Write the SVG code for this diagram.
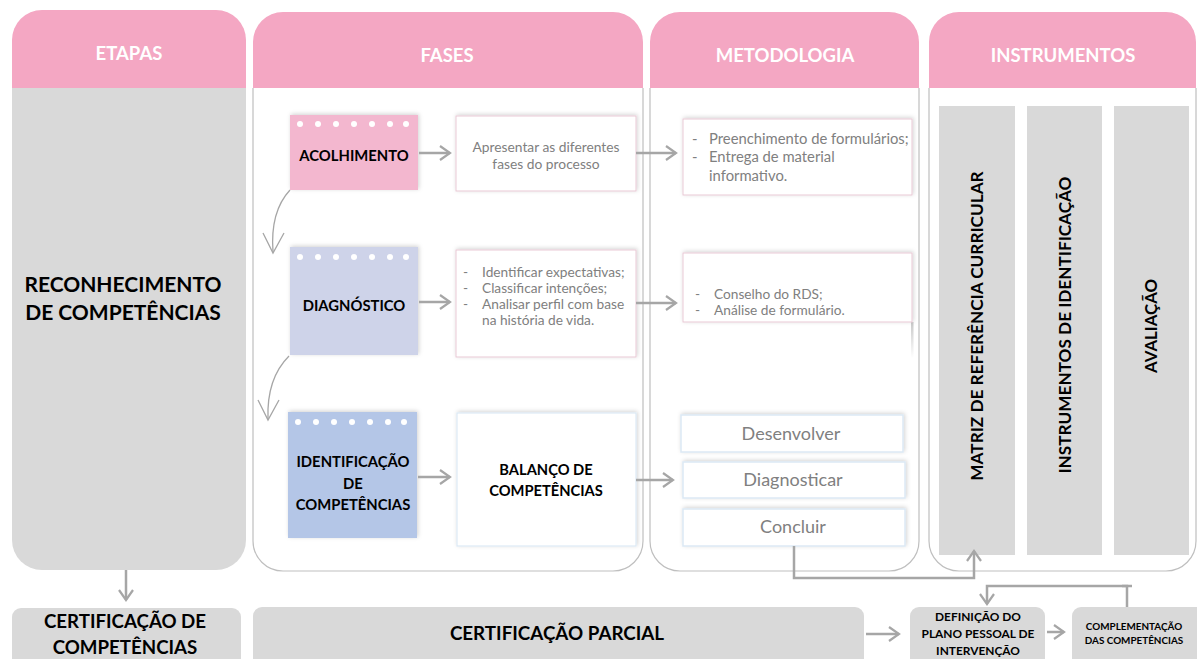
<svg xmlns="http://www.w3.org/2000/svg" width="1197" height="659" viewBox="0 0 1197 659">
<defs>
<style>
.t{font-family:Lato,"Open Sans","Liberation Sans",sans-serif}
.hd{font-weight:700;font-size:18.5px;fill:#fff;text-anchor:middle}
.note{font-weight:700;font-size:14.8px;fill:#000;text-anchor:middle}
.g{font-size:13.7px;fill:#808080}
.g2{font-size:14.8px;fill:#808080}
.gc{font-size:13.8px;fill:#808080;text-anchor:middle}
.m{font-size:18px;fill:#808080;text-anchor:middle}
.b{font-weight:700;fill:#000;text-anchor:middle}
.hdr{fill:#F4A7C3}
.colb{fill:#fff;stroke:#BFBFBF;stroke-width:1.2}
.grey{fill:#D9D9D9}
.box{fill:#fff;stroke:#E9C9D5;stroke-width:1}
.mbox{fill:#fff;stroke:#DCE9F5;stroke-width:1.5}
.dot{fill:#fff}
.con{fill:none;stroke:#A6A6A6;stroke-width:2.5}
.thin{fill:none;stroke:#A6A6A6;stroke-width:1.3}
</style>
<filter id="sh" x="-10%" y="-20%" width="120%" height="140%"><feDropShadow dx="1" dy="-1" stdDeviation="2" flood-color="#000" flood-opacity="0.18"/></filter>
<marker id="ar" markerUnits="userSpaceOnUse" markerWidth="14" markerHeight="18" viewBox="0 0 14 18" refX="12" refY="9" orient="auto"><path d="M2,2 L12,9 L2,16" fill="none" stroke="#A6A6A6" stroke-width="2.2"/></marker>
<g id="dots" class="dot"><circle cx="10" cy="9" r="3"/><circle cx="28" cy="9" r="3"/><circle cx="46" cy="9" r="3"/><circle cx="64" cy="9" r="3"/><circle cx="82" cy="9" r="3"/><circle cx="100" cy="9" r="3"/><circle cx="116" cy="9" r="3"/></g>
<linearGradient id="fade" x1="0" y1="0" x2="0" y2="1"><stop offset="0" stop-color="#C8C8C8"/><stop offset="1" stop-color="#fff"/></linearGradient>
</defs>

<g id="col-etapas">
<path class="hdr" d="M12,88 V40 A30,30 0 0 1 42,10 H216 A30,30 0 0 1 246,40 V88 Z"/>
<path class="grey" d="M12,88 H246 V540 A30,30 0 0 1 216,570 H42 A30,30 0 0 1 12,540 Z"/>
<text class="t hd" x="129" y="60">ETAPAS</text>
<text class="t b" x="123" y="292" font-size="21">RECONHECIMENTO</text>
<text class="t b" x="123" y="320" font-size="21">DE COMPETÊNCIAS</text>
</g>

<g id="col-fases">
<path class="colb" d="M253,88 V541 A30,30 0 0 0 283,571 H613 A30,30 0 0 0 643,541 V88"/>
<path class="hdr" d="M253,88 V42 A30,30 0 0 1 283,12 H613 A30,30 0 0 1 643,42 V88 Z"/>
<text class="t hd" x="447" y="62">FASES</text>
</g>

<g id="col-metodologia">
<path class="colb" d="M650,88 V541 A30,30 0 0 0 680,571 H889 A30,30 0 0 0 919,541 V88"/>
<path class="hdr" d="M650,88 V42 A30,30 0 0 1 680,12 H889 A30,30 0 0 1 919,42 V88 Z"/>
<text class="t hd" x="785" y="62">METODOLOGIA</text>
</g>

<g id="col-instrumentos">
<path class="colb" d="M929,88 V541 A30,30 0 0 0 959,571 H1166 A30,30 0 0 0 1196,541 V88"/>
<path class="hdr" d="M929,88 V42 A30,30 0 0 1 959,12 H1166 A30,30 0 0 1 1196,42 V88 Z"/>
<text class="t hd" x="1063" y="62">INSTRUMENTOS</text>
</g>

<g id="acolhimento">
<rect x="290" y="115" width="128" height="75" fill="#F3B7CF" filter="url(#sh)"/>
<use href="#dots" x="290" y="115"/>
<text class="t note" x="354" y="161">ACOLHIMENTO</text>
</g>
<g id="apresentar">
<rect class="box" x="456" y="116" width="180" height="75" filter="url(#sh)"/>
<text class="t gc" x="546" y="152">Apresentar as diferentes</text>
<text class="t gc" x="546" y="169">fases do processo</text>
</g>
<g id="met1">
<rect class="box" x="683" y="119" width="229" height="76" filter="url(#sh)"/>
<text class="t g2" x="692" y="144">-</text><text class="t g2" x="709" y="144">Preenchimento de formulários;</text>
<text class="t g2" x="692" y="162">-</text><text class="t g2" x="709" y="162">Entrega de material</text>
<text class="t g2" x="709" y="181">informativo.</text>
</g>

<g id="diagnostico">
<rect x="290" y="247" width="128" height="108" fill="#CED3E9" filter="url(#sh)"/>
<use href="#dots" x="290" y="248"/>
<text class="t note" x="354" y="311">DIAGNÓSTICO</text>
</g>
<g id="identificar">
<rect class="box" x="456" y="250" width="180" height="107" filter="url(#sh)"/>
<text class="t g" x="463" y="277">-</text><text class="t g" x="482" y="277">Identificar expectativas;</text>
<text class="t g" x="463" y="293">-</text><text class="t g" x="482" y="293">Classificar intenções;</text>
<text class="t g" x="463" y="309">-</text><text class="t g" x="482" y="309">Analisar perfil com base</text>
<text class="t g" x="482" y="325">na história de vida.</text>
</g>
<g id="met2">
<rect x="911" y="322" width="2.5" height="36" fill="url(#fade)"/>
<rect class="box" x="683" y="253" width="229" height="69" filter="url(#sh)"/>
<text class="t g" x="695" y="299" font-size="14.3">-</text><text class="t g" x="714" y="299" font-size="14.3">Conselho do RDS;</text>
<text class="t g" x="695" y="315" font-size="14.3">-</text><text class="t g" x="714" y="315" font-size="14.3">Análise de formulário.</text>
</g>

<g id="identificacao">
<rect x="288" y="412" width="129" height="126" fill="#B4C6E7" filter="url(#sh)"/>
<use href="#dots" x="288" y="413"/>
<text class="t note" x="353" y="467">IDENTIFICAÇÃO</text>
<text class="t note" x="353" y="489">DE</text>
<text class="t note" x="353" y="510">COMPETÊNCIAS</text>
</g>
<g id="balanco">
<rect x="457" y="413" width="179" height="133" fill="#fff" stroke="#DCE9F5" stroke-width="1.2" filter="url(#sh)"/>
<text class="t b" x="546" y="475" font-size="14.7">BALANÇO DE</text>
<text class="t b" x="546" y="496" font-size="14.7">COMPETÊNCIAS</text>
</g>
<g id="desenvolver">
<rect class="mbox" x="681" y="415" width="222" height="37" filter="url(#sh)"/>
<text class="t m" x="791" y="440">Desenvolver</text>
</g>
<g id="diagnosticar">
<rect class="mbox" x="683" y="462" width="222" height="36" filter="url(#sh)"/>
<text class="t m" x="793" y="486">Diagnosticar</text>
</g>
<g id="concluir">
<rect class="mbox" x="683" y="509" width="222" height="37" filter="url(#sh)"/>
<text class="t m" x="793" y="533">Concluir</text>
</g>

<g id="instr-matriz">
<rect class="grey" x="939" y="106" width="76" height="449"/>
<text class="t b" font-size="17.2" transform="translate(977,326) rotate(-90)" y="6">MATRIZ DE REFERÊNCIA CURRICULAR</text>
</g>
<g id="instr-identificacao">
<rect class="grey" x="1027" y="106" width="75" height="449"/>
<text class="t b" font-size="17.2" transform="translate(1065,325) rotate(-90)" y="6">INSTRUMENTOS DE IDENTIFICAÇÃO</text>
</g>
<g id="instr-avaliacao">
<rect class="grey" x="1114" y="106" width="75" height="449"/>
<text class="t b" font-size="16.8" transform="translate(1151,326) rotate(-90)" y="6">AVALIAÇÃO</text>
</g>

<g id="cert-competencias">
<rect class="grey" x="12" y="608" width="229" height="62" rx="9"/>
<text class="t b" x="125" y="628" font-size="18.7">CERTIFICAÇÃO DE</text>
<text class="t b" x="125" y="654" font-size="18.7">COMPETÊNCIAS</text>
</g>
<g id="cert-parcial">
<rect class="grey" x="253" y="607" width="611" height="62" rx="9"/>
<text class="t b" x="557" y="640" font-size="18.8">CERTIFICAÇÃO PARCIAL</text>
</g>
<g id="definicao">
<rect class="grey" x="910" y="607" width="135" height="62" rx="9"/>
<text class="t b" x="978" y="621" font-size="11.9">DEFINIÇÃO DO</text>
<text class="t b" x="978" y="638" font-size="11.9">PLANO PESSOAL DE</text>
<text class="t b" x="978" y="655" font-size="11.9">INTERVENÇÃO</text>
</g>
<g id="complementacao">
<rect class="grey" x="1072" y="607" width="135" height="62" rx="9"/>
<text class="t b" x="1134" y="630" font-size="9.9">COMPLEMENTAÇÃO</text>
<text class="t b" x="1134" y="644" font-size="9.9">DAS COMPETÊNCIAS</text>
</g>

<g id="connectors">
<line class="con" x1="419" y1="153" x2="450" y2="153" marker-end="url(#ar)"/>
<line class="con" x1="636" y1="153" x2="676" y2="153" marker-end="url(#ar)"/>
<line class="con" x1="419" y1="302" x2="450" y2="302" marker-end="url(#ar)"/>
<line class="con" x1="636" y1="303" x2="676" y2="303" marker-end="url(#ar)"/>
<line class="con" x1="418" y1="477" x2="450" y2="477" marker-end="url(#ar)"/>
<line class="con" x1="636" y1="480" x2="673" y2="480" marker-end="url(#ar)"/>
<path class="thin" d="M290,190 C277,204 271,225 273,252"/>
<path class="thin" d="M263,233 L273,253 L284,233"/>
<path class="thin" d="M289,356 C275,370 267,392 268,419"/>
<path class="thin" d="M258,400 L268,420 L279,400"/>
<path class="con" d="M794,546 V578 H974 V551" marker-end="url(#ar)"/>
<path class="con" d="M1127,607 V586 H987 V604" marker-end="url(#ar)"/>
<line class="con" x1="1122" y1="586" x2="1132" y2="586"/>
<line class="con" x1="126" y1="570" x2="126" y2="600" marker-end="url(#ar)"/>
<line class="con" x1="866" y1="634" x2="899" y2="634" marker-end="url(#ar)"/>
<line class="con" x1="1047" y1="632" x2="1064" y2="632" marker-end="url(#ar)"/>
</g>
</svg>
